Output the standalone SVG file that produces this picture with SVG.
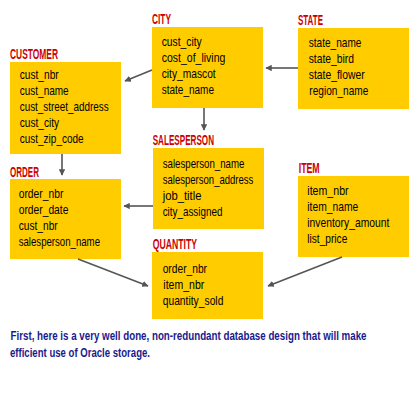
<svg xmlns="http://www.w3.org/2000/svg" width="420" height="420" viewBox="0 0 420 420">
<style>
.box{fill:#ffcc00}
.t{font-family:"Liberation Sans Narrow","Liberation Sans",Arial,sans-serif;font-size:14px;font-weight:bold;fill:#cc0000}
.i{font-family:"Liberation Sans Narrow","Liberation Sans",Arial,sans-serif;font-size:13px;fill:#000}
.c{font-family:"Liberation Sans Narrow","Liberation Sans",Arial,sans-serif;font-size:12px;font-weight:bold;fill:#1a1a8c}
.e{stroke:#555;stroke-width:1.6;fill:none;marker-end:url(#ah)}
</style>
<defs>
<marker id="ah" viewBox="0 0 10 10" refX="9" refY="5" markerWidth="4" markerHeight="4" orient="auto" markerUnits="strokeWidth">
<path d="M0,0 L10,5 L0,10 z" fill="#555"/>
</marker>
</defs>
<rect width="420" height="420" fill="#fff"/>
<g id="customer">
<rect class="box" x="10" y="62" width="111" height="92"/>
<text class="t" x="10" y="58.5" textLength="48" lengthAdjust="spacingAndGlyphs">CUSTOMER</text>
<text class="i" x="19.7" y="79" textLength="39" lengthAdjust="spacingAndGlyphs">cust_nbr</text>
<text class="i" x="19.7" y="95" textLength="49" lengthAdjust="spacingAndGlyphs">cust_name</text>
<text class="i" x="19.7" y="111" textLength="89" lengthAdjust="spacingAndGlyphs">cust_street_address</text>
<text class="i" x="19.7" y="127" textLength="39.5" lengthAdjust="spacingAndGlyphs">cust_city</text>
<text class="i" x="19.7" y="143" textLength="64" lengthAdjust="spacingAndGlyphs">cust_zip_code</text>
</g>
<g id="city">
<rect class="box" x="152" y="27" width="111" height="81"/>
<text class="t" x="152" y="24" textLength="19" lengthAdjust="spacingAndGlyphs">CITY</text>
<text class="i" x="161.7" y="46" textLength="40" lengthAdjust="spacingAndGlyphs">cust_city</text>
<text class="i" x="161.7" y="62" textLength="63.7" lengthAdjust="spacingAndGlyphs">cost_of_living</text>
<text class="i" x="161.7" y="78" textLength="54" lengthAdjust="spacingAndGlyphs">city_mascot</text>
<text class="i" x="161.7" y="94" textLength="52.3" lengthAdjust="spacingAndGlyphs">state_name</text>
</g>
<g id="state">
<rect class="box" x="298" y="28" width="111" height="81"/>
<text class="t" x="298" y="24.5" textLength="25" lengthAdjust="spacingAndGlyphs">STATE</text>
<text class="i" x="308.7" y="47" textLength="52.7" lengthAdjust="spacingAndGlyphs">state_name</text>
<text class="i" x="308.7" y="63" textLength="45.3" lengthAdjust="spacingAndGlyphs">state_bird</text>
<text class="i" x="308.7" y="79" textLength="56" lengthAdjust="spacingAndGlyphs">state_flower</text>
<text class="i" x="309.3" y="95" textLength="59" lengthAdjust="spacingAndGlyphs">region_name</text>
</g>
<g id="salesperson">
<rect class="box" x="153" y="148" width="111" height="81"/>
<text class="t" x="152.7" y="145" textLength="61.3" lengthAdjust="spacingAndGlyphs">SALESPERSON</text>
<text class="i" x="162.7" y="168" textLength="81.7" lengthAdjust="spacingAndGlyphs">salesperson_name</text>
<text class="i" x="162.7" y="184" textLength="90.7" lengthAdjust="spacingAndGlyphs">salesperson_address</text>
<text class="i" x="162.7" y="200" textLength="38.7" lengthAdjust="spacingAndGlyphs">job_title</text>
<text class="i" x="162.7" y="216" textLength="59.7" lengthAdjust="spacingAndGlyphs">city_assigned</text>
</g>
<g id="item">
<rect class="box" x="298" y="176" width="111" height="81"/>
<text class="t" x="298.7" y="173" textLength="21" lengthAdjust="spacingAndGlyphs">ITEM</text>
<text class="i" x="307.3" y="195" textLength="41.3" lengthAdjust="spacingAndGlyphs">item_nbr</text>
<text class="i" x="307.3" y="211" textLength="51" lengthAdjust="spacingAndGlyphs">item_name</text>
<text class="i" x="307.3" y="227" textLength="82" lengthAdjust="spacingAndGlyphs">inventory_amount</text>
<text class="i" x="307.3" y="243" textLength="40" lengthAdjust="spacingAndGlyphs">list_price</text>
</g>
<g id="order">
<rect class="box" x="10" y="179" width="111" height="80"/>
<text class="t" x="10" y="176.5" textLength="29" lengthAdjust="spacingAndGlyphs">ORDER</text>
<text class="i" x="18.7" y="198" textLength="44.7" lengthAdjust="spacingAndGlyphs">order_nbr</text>
<text class="i" x="18.7" y="214" textLength="49.7" lengthAdjust="spacingAndGlyphs">order_date</text>
<text class="i" x="18.7" y="230" textLength="39" lengthAdjust="spacingAndGlyphs">cust_nbr</text>
<text class="i" x="18.7" y="246" textLength="81.3" lengthAdjust="spacingAndGlyphs">salesperson_name</text>
</g>
<g id="quantity">
<rect class="box" x="152" y="252" width="111" height="67"/>
<text class="t" x="152.7" y="249" textLength="44.3" lengthAdjust="spacingAndGlyphs">QUANTITY</text>
<text class="i" x="162.7" y="273" textLength="44.3" lengthAdjust="spacingAndGlyphs">order_nbr</text>
<text class="i" x="163.3" y="289" textLength="41" lengthAdjust="spacingAndGlyphs">item_nbr</text>
<text class="i" x="162.7" y="305" textLength="60.7" lengthAdjust="spacingAndGlyphs">quantity_sold</text>
</g>
<g id="connectors">
<line class="e" x1="298" y1="68" x2="266" y2="68"/>
<line class="e" x1="152" y1="70" x2="125" y2="81"/>
<line class="e" x1="204" y1="108" x2="204" y2="130"/>
<line class="e" x1="62" y1="154" x2="62" y2="175"/>
<line class="e" x1="153" y1="206" x2="124" y2="206"/>
<line class="e" x1="78" y1="259" x2="148" y2="286"/>
<line class="e" x1="342" y1="257" x2="268" y2="286"/>
</g>
<text class="c" x="10.5" y="340" textLength="356" lengthAdjust="spacingAndGlyphs">First, here is a very well done, non-redundant database design that will make</text>
<text class="c" x="10" y="356.5" textLength="140" lengthAdjust="spacingAndGlyphs">efficient use of Oracle storage.</text>
</svg>
